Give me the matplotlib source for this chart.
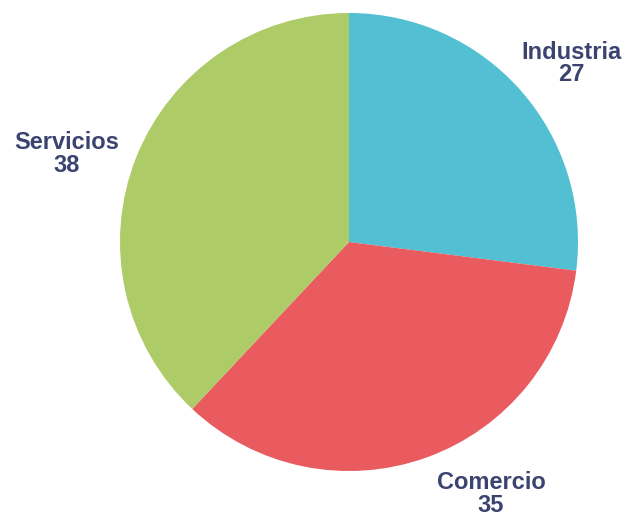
""" Pie chart: sectores """
import matplotlib
matplotlib.use("Agg")
import matplotlib.pyplot as plt

sectors = ["Industria", "Comercio", "Servicios"]
values = [27, 35, 38]
colors = ["#52bfd3", "#e95b5e", "#adcb67"]

# label anchor points (pixel layout, y measured from bottom)
label_x = [571.5, 491, 66.5]
label_y = [451.5, 21, 361]

W, H = 627, 515
fig = plt.figure(figsize=(W / 100, H / 100), dpi=100)
ax = fig.add_axes([0, 0, 1, 1])
ax.set_xlim(0, W)
ax.set_ylim(0, H)
ax.set_aspect("equal")
ax.axis("off")

ax.pie(values, colors=colors, startangle=90, counterclock=False,
       center=(349, 273), radius=229, frame=True,
       wedgeprops={"linewidth": 0})
ax.set_xlim(0, W)
ax.set_ylim(0, H)
ax.axis("off")

for name, val, x, y in zip(sectors, values, label_x, label_y):
    ax.text(x, y, f"{name}\n{val}", ha="center", va="center",
            fontsize=17, fontweight="bold", family="Liberation Sans",
            color="#3b4470", linespacing=0.95)

fig.savefig("out.png", dpi=100)
